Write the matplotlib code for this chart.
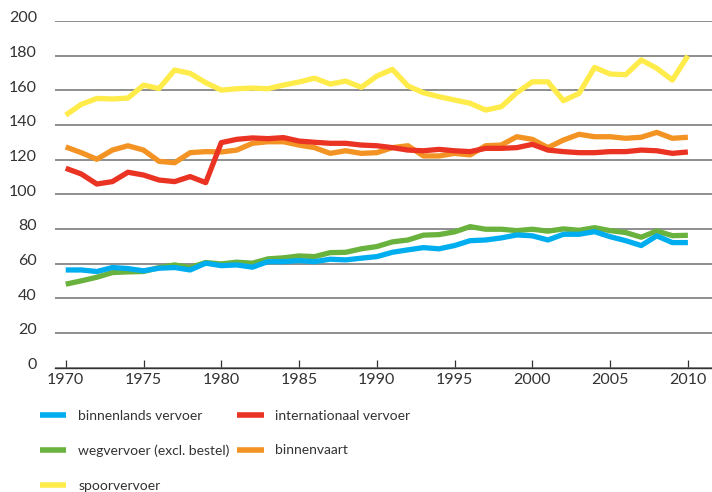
import matplotlib
matplotlib.use("Agg")
import matplotlib.pyplot as plt
from matplotlib.transforms import ScaledTranslation

years = list(range(1970, 2011))

binnenlands = [56.3, 56.3, 55.4, 57.7, 57.1, 55.8, 57.3, 57.7, 56.3, 60.2,
               58.8, 59.2, 57.9, 61.1, 61.1, 61.7, 61.1, 62.5, 62.1, 63.1,
               64.0, 66.5, 67.9, 69.2, 68.5, 70.4, 73.2, 73.6, 74.8, 76.5,
               76.0, 73.6, 76.9, 76.9, 78.4, 75.5, 73.2, 70.4, 76.0, 72.1, 72.1]
wegvervoer = [48.1, 50.0, 52.1, 54.8, 55.2, 55.4, 57.7, 59.2, 57.7, 60.6,
              59.8, 60.8, 60.2, 62.7, 63.3, 64.4, 64.0, 66.3, 66.5, 68.5,
              69.8, 72.5, 73.6, 76.4, 76.7, 78.3, 81.3, 79.8, 79.8, 79.0,
              79.8, 78.7, 80.0, 79.2, 80.7, 79.0, 77.9, 75.2, 78.8, 76.1, 76.3]
spoorvervoer = [145.7, 151.9, 155.3, 155.0, 155.5, 163.0, 161.0, 171.7, 169.8, 164.4,
                160.1, 160.9, 161.3, 160.9, 163.0, 164.8, 167.0, 163.6, 165.3, 161.7,
                168.2, 172.1, 162.5, 158.6, 156.3, 154.4, 152.5, 148.6, 150.5, 158.6,
                164.9, 164.9, 154.0, 158.2, 173.2, 169.4, 169.0, 177.5, 172.7, 165.9, 179.9]
internationaal = [115.0, 111.7, 105.9, 107.3, 112.7, 111.1, 108.2, 107.3, 110.2, 106.7,
                  129.8, 131.7, 132.5, 132.1, 132.7, 130.7, 130.0, 129.4, 129.4, 128.4,
                  128.0, 126.9, 125.5, 125.1, 125.9, 125.1, 124.6, 126.5, 126.5, 126.9,
                  128.8, 125.5, 124.6, 124.0, 124.0, 124.6, 124.6, 125.5, 125.1, 123.6, 124.4]
binnenvaart = [127.3, 124.0, 120.2, 125.5, 128.0, 125.5, 119.0, 118.2, 124.0, 124.6,
               124.4, 125.5, 129.4, 130.3, 130.3, 128.4, 126.9, 123.6, 125.1, 123.6,
               124.0, 126.9, 128.0, 122.1, 122.1, 123.6, 122.7, 128.0, 128.4, 133.2,
               131.7, 126.9, 131.3, 134.6, 133.2, 133.2, 132.3, 132.9, 135.7, 132.3, 132.9]

labels = ["binnenlands vervoer", "wegvervoer (excl. bestel)", "spoorvervoer",
          "internationaal vervoer", "binnenvaart"]
yticks = [0, 20, 40, 60, 80, 100, 120, 140, 160, 180, 200]
xticks = [1970, 1975, 1980, 1985, 1990, 1995, 2000, 2005, 2010]

plt.rcParams["font.family"] = ["Lato", "DejaVu Sans"]

W, H = 712, 492
fig = plt.figure(figsize=(W / 100, H / 100), dpi=100)
ax = fig.add_axes([55 / W, (H - 367.5) / H, (712 - 55) / W, (367.5 - 21) / H])

colors = {"binnenlands": "#00AEEF", "weg": "#6AB23E", "spoor": "#FFEB4A",
          "inter": "#EA3323", "vaart": "#F39323"}
lw = 3.8
l_spoor, = ax.plot(years, spoorvervoer, color=colors["spoor"], lw=lw)
l_vaart, = ax.plot(years, binnenvaart, color=colors["vaart"], lw=lw)
l_inter, = ax.plot(years, internationaal, color=colors["inter"], lw=lw)
l_weg, = ax.plot(years, wegvervoer, color=colors["weg"], lw=lw)
l_bin, = ax.plot(years, binnenlands, color=colors["binnenlands"], lw=lw)
for l in [l_spoor, l_vaart, l_inter, l_weg, l_bin]:
    l.set_solid_capstyle("butt")

ax.set_xlim(1969.31, 2011.55)
ax.set_ylim(0, 200)
ax.set_yticks(yticks)
ax.set_xticks(xticks)
ax.set_xticklabels([str(x) for x in xticks])
for s in ["top", "right", "left"]:
    ax.spines[s].set_visible(False)
ax.spines["bottom"].set_color("#333333")
ax.spines["bottom"].set_linewidth(1.0)
ax.grid(axis="y", color="#707070", lw=1.1)
ax.set_axisbelow(True)
ax.tick_params(axis="y", length=0, pad=13, labelsize=11.5, labelcolor="#333333")
ax.tick_params(axis="x", direction="in", length=5.5, width=0.9, color="#333333",
               pad=3, labelsize=11.5, labelcolor="#333333")
off = ScaledTranslation(0, 3 / 72, fig.dpi_scale_trans)
for t in ax.get_yticklabels():
    t.set_transform(t.get_transform() + off)
for t in ax.get_xticklabels():
    t.set_transform(t.get_transform() + ScaledTranslation(0, -1 / 72, fig.dpi_scale_trans))

handles = [l_bin, l_weg, l_spoor, l_inter, l_vaart]
leg = fig.legend(handles, labels, ncol=2, loc="upper left",
                 bbox_to_anchor=(40 / W, 1 - 410 / H), frameon=False,
                 fontsize=10, handlelength=1.9, handletextpad=0.85,
                 columnspacing=0.55, labelspacing=1.62, borderpad=0, borderaxespad=0)
for t in leg.get_texts():
    t.set_color("#333333")
for h in leg.legend_handles:
    h.set_linewidth(4.0)

fig.savefig("out.png", dpi=100)
